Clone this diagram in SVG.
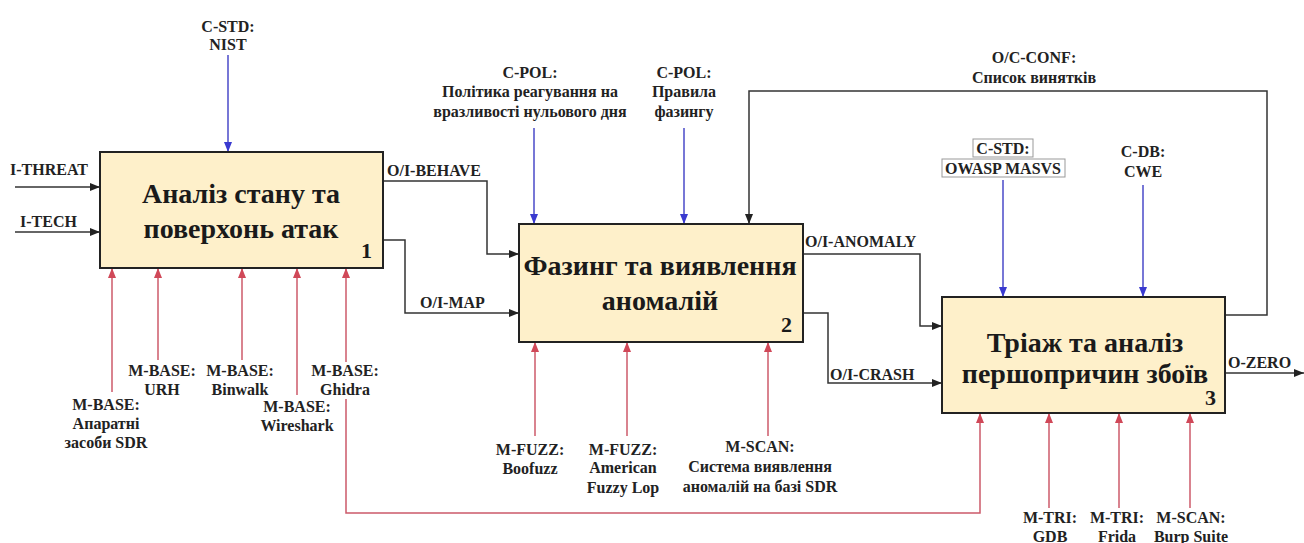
<svg xmlns="http://www.w3.org/2000/svg" width="1304" height="543" viewBox="0 0 1304 543">
<defs>
<style>
.box{fill:#FEF0CA;stroke:#222;stroke-width:2}
.title{font-family:"Liberation Serif","Times New Roman",serif;font-weight:bold;font-size:28px;fill:#1a1a1a;text-anchor:middle}
.num{font-family:"Liberation Serif","Times New Roman",serif;font-weight:bold;font-size:22px;fill:#1a1a1a;text-anchor:end}
.lbl{font-family:"Liberation Serif","Times New Roman",serif;font-weight:bold;font-size:16px;fill:#222;text-anchor:middle}
.lbs{font-family:"Liberation Serif","Times New Roman",serif;font-weight:bold;font-size:16px;fill:#222}
.k{fill:none;stroke:#333;stroke-width:1.5}
.b{fill:none;stroke:#4a4ac8;stroke-width:1.5}
.r{fill:none;stroke:#cc5a6a;stroke-width:1.5}
.frame{fill:none;stroke:#999;stroke-width:1}
</style>
<marker id="ak" markerUnits="userSpaceOnUse" markerWidth="10" markerHeight="10" viewBox="0 0 10 10" refX="10" refY="5" orient="auto"><path d="M0,1 L10,5 L0,9 Z" fill="#222"/></marker>
<marker id="ab" markerUnits="userSpaceOnUse" markerWidth="10" markerHeight="10" viewBox="0 0 10 10" refX="10" refY="5" orient="auto"><path d="M0,1 L10,5 L0,9 Z" fill="#3a3ad0"/></marker>
<marker id="ar" markerUnits="userSpaceOnUse" markerWidth="10" markerHeight="10" viewBox="0 0 10 10" refX="10" refY="5" orient="auto"><path d="M0,1 L10,5 L0,9 Z" fill="#d04858"/></marker>
</defs>
<rect width="1304" height="543" fill="#fff"/>

<g id="connectors">
<line class="k" x1="15" y1="187" x2="100" y2="187" marker-end="url(#ak)"/>
<line class="k" x1="15" y1="232" x2="100" y2="232" marker-end="url(#ak)"/>
<path class="k" d="M383,181 H487 V254 H519" marker-end="url(#ak)"/>
<path class="k" d="M383,240 H405 V313 H519" marker-end="url(#ak)"/>
<path class="k" d="M803,254 H920 V326 H942" marker-end="url(#ak)"/>
<path class="k" d="M803,313 H828 V383 H942" marker-end="url(#ak)"/>
<path class="k" d="M1225,315 H1267 V91 H749 V224" marker-end="url(#ak)"/>
<line class="k" x1="1225" y1="373" x2="1304" y2="373" marker-end="url(#ak)"/>
<line class="b" x1="228" y1="55" x2="228" y2="152" marker-end="url(#ab)"/>
<line class="b" x1="534" y1="128" x2="534" y2="224" marker-end="url(#ab)"/>
<line class="b" x1="684" y1="128" x2="684" y2="224" marker-end="url(#ab)"/>
<line class="b" x1="1003" y1="180" x2="1003" y2="297" marker-end="url(#ab)"/>
<line class="b" x1="1143" y1="185" x2="1143" y2="297" marker-end="url(#ab)"/>
<line class="r" x1="112" y1="392" x2="112" y2="268" marker-end="url(#ar)"/>
<line class="r" x1="158" y1="360" x2="158" y2="268" marker-end="url(#ar)"/>
<line class="r" x1="242" y1="360" x2="242" y2="268" marker-end="url(#ar)"/>
<line class="r" x1="297" y1="395" x2="297" y2="268" marker-end="url(#ar)"/>
<line class="r" x1="346" y1="362" x2="346" y2="268" marker-end="url(#ar)"/>
<path class="r" d="M346,399 V513 H980 V413" marker-end="url(#ar)"/>
<line class="r" x1="535" y1="436" x2="535" y2="342" marker-end="url(#ar)"/>
<line class="r" x1="627" y1="436" x2="627" y2="342" marker-end="url(#ar)"/>
<line class="r" x1="768" y1="436" x2="768" y2="342" marker-end="url(#ar)"/>
<line class="r" x1="1049" y1="508" x2="1049" y2="413" marker-end="url(#ar)"/>
<line class="r" x1="1119" y1="508" x2="1119" y2="413" marker-end="url(#ar)"/>
<line class="r" x1="1190" y1="508" x2="1190" y2="413" marker-end="url(#ar)"/>
</g>

<g id="labels">
<text class="lbl" x="228" y="32">C-STD:</text>
<text class="lbl" x="228" y="50">NIST</text>
<text class="lbs" x="10" y="175">I-THREAT</text>
<text class="lbs" x="20" y="227">I-TECH</text>
<text class="lbs" x="387" y="176">O/I-BEHAVE</text>
<text class="lbs" x="420" y="308">O/I-MAP</text>
<text class="lbl" x="530" y="78">C-POL:</text>
<text class="lbl" x="530" y="97">Політика реагування на</text>
<text class="lbl" x="530" y="117">вразливості нульового дня</text>
<text class="lbl" x="684" y="78">C-POL:</text>
<text class="lbl" x="684" y="97">Правила</text>
<text class="lbl" x="684" y="117">фазингу</text>
<text class="lbl" x="1034" y="63">O/C-CONF:</text>
<text class="lbl" x="1034" y="83">Список винятків</text>
<rect class="frame" x="973" y="139" width="60" height="18"/>
<rect class="frame" x="942" y="159" width="123" height="18"/>
<text class="lbl" x="1003" y="154">C-STD:</text>
<text class="lbl" x="1003" y="174">OWASP MASVS</text>
<text class="lbl" x="1143" y="157">C-DB:</text>
<text class="lbl" x="1143" y="177">CWE</text>
<text class="lbs" x="805" y="247">O/I-ANOMALY</text>
<text class="lbs" x="830" y="380">O/I-CRASH</text>
<text class="lbs" x="1228" y="368">O-ZERO</text>
<text class="lbl" x="106" y="410">M-BASE:</text>
<text class="lbl" x="106" y="429">Апаратні</text>
<text class="lbl" x="106" y="448">засоби SDR</text>
<text class="lbl" x="162" y="376">M-BASE:</text>
<text class="lbl" x="162" y="395">URH</text>
<text class="lbl" x="240" y="376">M-BASE:</text>
<text class="lbl" x="240" y="395">Binwalk</text>
<text class="lbl" x="297" y="412">M-BASE:</text>
<text class="lbl" x="297" y="431">Wireshark</text>
<text class="lbl" x="345" y="376">M-BASE:</text>
<text class="lbl" x="345" y="395">Ghidra</text>
<text class="lbl" x="530" y="455">M-FUZZ:</text>
<text class="lbl" x="530" y="474">Boofuzz</text>
<text class="lbl" x="623" y="455">M-FUZZ:</text>
<text class="lbl" x="623" y="473">American</text>
<text class="lbl" x="623" y="493">Fuzzy Lop</text>
<text class="lbl" x="760" y="452">M-SCAN:</text>
<text class="lbl" x="760" y="472">Система виявлення</text>
<text class="lbl" x="760" y="492">аномалій на базі SDR</text>
<text class="lbl" x="1050" y="523">M-TRI:</text>
<text class="lbl" x="1050" y="542">GDB</text>
<text class="lbl" x="1117" y="523">M-TRI:</text>
<text class="lbl" x="1117" y="542">Frida</text>
<text class="lbl" x="1191" y="523">M-SCAN:</text>
<text class="lbl" x="1191" y="542">Burp Suite</text>
</g>

<g id="node1">
<rect class="box" x="100" y="152" width="283" height="116"/>
<text class="title" x="241" y="203">Аналіз стану та</text>
<text class="title" x="241" y="238">поверхонь атак</text>
<text class="num" x="372" y="258">1</text>
</g>
<g id="node2">
<rect class="box" x="519" y="224" width="284" height="118"/>
<text class="title" x="660" y="275">Фазинг та виявлення</text>
<text class="title" x="660" y="310">аномалій</text>
<text class="num" x="792" y="332">2</text>
</g>
<g id="node3">
<rect class="box" x="942" y="297" width="283" height="116"/>
<text class="title" x="1085" y="352">Тріаж та аналіз</text>
<text class="title" x="1085" y="383">першопричин збоїв</text>
<text class="num" x="1216" y="405">3</text>
</g>
</svg>
